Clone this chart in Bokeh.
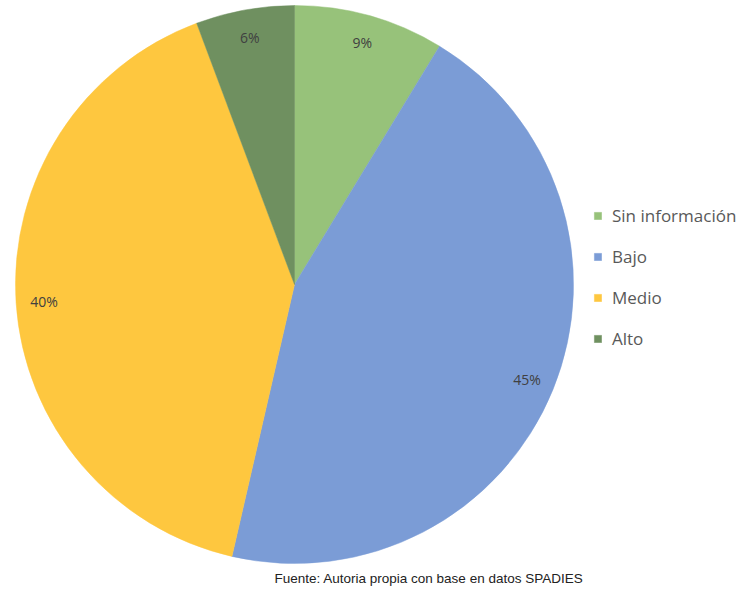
import math
from bokeh.plotting import figure
from bokeh.models import Range1d, ColumnDataSource, Legend, LegendItem, Label
from bokeh.embed import file_html
from bokeh.resources import INLINE

categories = ["Sin información", "Bajo", "Medio", "Alto"]
values = [8.7, 44.9, 40.7, 5.7]
labels = ["9%", "45%", "40%", "6%"]
colors = ["#97C27A", "#7B9CD6", "#FEC73F", "#6F9060"]
source_note = "Fuente: Autoria propia con base en datos SPADIES"

W, H = 739, 590
# data coords: x = picture x, y = 598 - picture y
p = figure(width=W, height=H, output_backend="svg", toolbar_location=None,
           x_range=Range1d(0, W), y_range=Range1d(598 - H, 598),
           min_border=0, outline_line_color=None)
p.axis.visible = False
p.grid.visible = False
p.background_fill_color = "white"
p.border_fill_color = "white"

cx, cy, r = 294, 598 - 284, 279
total = sum(values)
starts, ends, lx, ly = [], [], [], []
cum = 0.0
for v in values:
    a0 = math.pi / 2 - cum / total * 2 * math.pi
    cum += v
    a1 = math.pi / 2 - cum / total * 2 * math.pi
    starts.append(a0)
    ends.append(a1)
    mid = (a0 + a1) / 2
    lx.append(cx + 0.9 * r * math.cos(mid))
    ly.append(cy + 0.9 * r * math.sin(mid))

src = ColumnDataSource(dict(cat=categories, start=starts, end=ends, color=colors,
                            lx=lx, ly=ly, lab=labels))
renderers = []
for i in range(len(values)):
    rr = p.wedge(x=cx, y=cy, radius=r, start_angle=starts[i], end_angle=ends[i],
                 direction="clock", fill_color=colors[i], line_color=colors[i],
                 line_width=0.5)
    renderers.append(rr)

p.text(x="lx", y="ly", text="lab", source=src, text_align="center",
       text_baseline="middle", text_font_size="14px", text_color="#404040",
       text_font={"value": "Open Sans"})

legend = Legend(items=[LegendItem(label=c, renderers=[renderers[i]]) for i, c in enumerate(categories)],
                location=(593, 240), orientation="vertical",
                glyph_width=9, glyph_height=9, label_height=20, spacing=18,
                label_text_font="Open Sans", label_text_font_size="17px",
                label_text_color="#595959", padding=0, margin=0,
                border_line_color=None, background_fill_alpha=0,
                label_standoff=10)
p.add_layout(legend, "center")

note = Label(x=274, y=598 - 578, text=source_note, text_font="Liberation Sans",
             text_font_size="13.5px", text_color="#222222", text_baseline="middle")
p.add_layout(note)

open("out.html", "w").write(file_html(p, INLINE))
